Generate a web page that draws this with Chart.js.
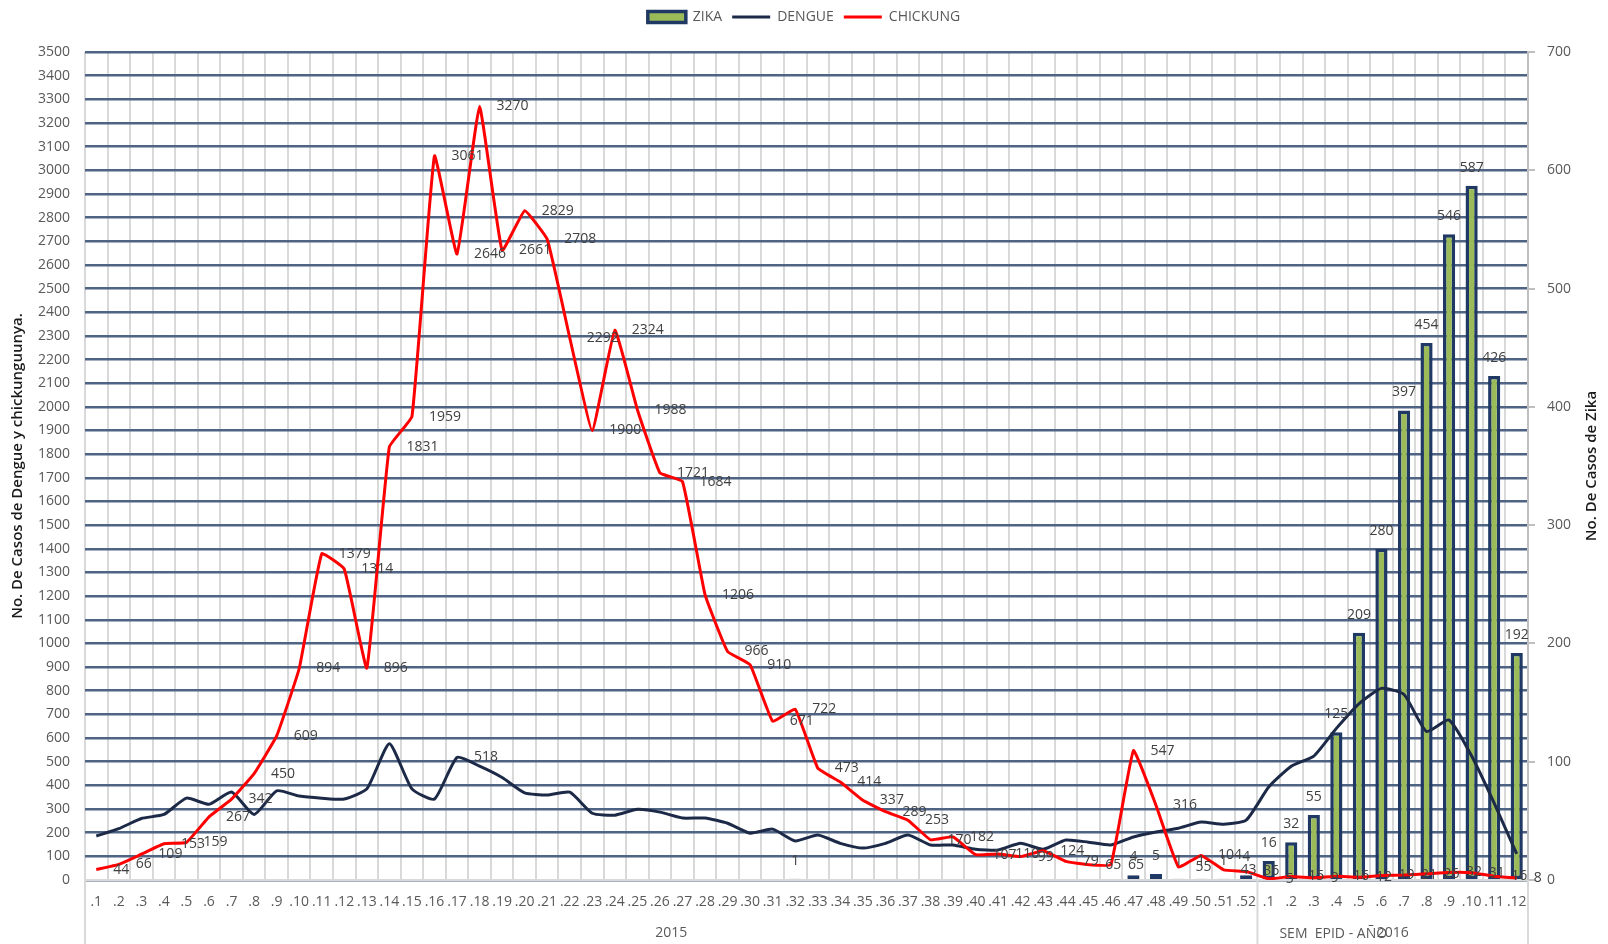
<!DOCTYPE html>
<html>
<head>
<meta charset="utf-8">
<title>Zika, Dengue, Chikungunya</title>
<script src="https://cdn.jsdelivr.net/npm/chart.js@4.4.1/dist/chart.umd.min.js"></script>
<style>
  html, body { margin: 0; padding: 0; background: #fff; }
  #wrap { width: 1608px; height: 944px; }
</style>
</head>
<body>
<div id="wrap"><canvas id="chart" width="1608" height="944"></canvas></div>
<script>
// epidemiological weeks: 52 of 2015, then 12 of 2016
const categories = [
  ".1", ".2", ".3", ".4", ".5", ".6", ".7", ".8", ".9", ".10",
  ".11", ".12", ".13", ".14", ".15", ".16", ".17", ".18", ".19", ".20",
  ".21", ".22", ".23", ".24", ".25", ".26", ".27", ".28", ".29", ".30",
  ".31", ".32", ".33", ".34", ".35", ".36", ".37", ".38", ".39", ".40",
  ".41", ".42", ".43", ".44", ".45", ".46", ".47", ".48", ".49", ".50",
  ".51", ".52",
  ".1", ".2", ".3", ".4", ".5", ".6", ".7", ".8", ".9", ".10", ".11", ".12",
];

const zika = [
  null, null, null, null, null, null, null, null, null, null,
  null, null, null, null, null, null, null, null, null, null,
  null, null, null, null, null, null, null, null, null, null,
  null, 1, null, null, null, null, null, null, null, null,
  null, null, null, null, null, null, 4, 5, 1, 1,
  1, 4,
  16, 32, 55, 125, 209, 280, 397, 454, 546, 587, 426, 192,
];

const dengue = [
  186, 217, 260, 277, 346, 320, 372, 277, 377, 355,
  346, 342, 385, 576, 385, 342, 518, 481, 433, 368,
  359, 371, 282, 274, 299, 287, 262, 262, 240, 198,
  215, 165, 190, 155, 135, 155, 190, 148, 148, 130,
  127, 155, 130, 169, 160, 148, 182, 203, 219, 245,
  236, 253,
  393, 481, 524, 641, 745, 810, 784, 628, 676, 524, 325, 110,
];

const chikungunya = [
  44, 66, 109, 153, 159, 267, 342, 450, 609, 894,
  1379, 1314, 896, 1831, 1959, 3061, 2646, 3270, 2661, 2829,
  2708, 2292, 1900, 2324, 1988, 1721, 1684, 1206, 966, 910,
  671, 722, 473, 414, 337, 289, 253, 170, 182, 107,
  110, 99, 124, 79, 65, 65, 547, 316, 55, 104,
  43, 36,
  5, 15, 9, 16, 12, 19, 21, 26, 32, 31, 16, 8,
];

// only one dengue point carries a label in the original
const dengueLabelIdx = [16];

const yearGroups = [
  { text: "2015", from: 0, to: 51 },
  { text: "2016", from: 52, to: 63 },
];

const FONT = "'Open Sans', sans-serif";
const GREY = "#595959";
const NAVY = "#1F3864";

Chart.defaults.font.family = FONT;
Chart.defaults.color = GREY;

// leave room between the legend and the plot, like the original
const legendGap = {
  id: "legendGap",
  beforeInit(chart) {
    const fit = chart.legend.fit;
    chart.legend.fit = function () {
      fit.bind(chart.legend)();
      this.height += 18;
    };
  },
};

const valueLabels = {
  id: "valueLabels",
  afterDatasetsDraw(chart) {
    const ctx = chart.ctx;
    ctx.save();
    ctx.font = "14px " + FONT;
    ctx.fillStyle = "#404040";

    // zika: above the bars
    ctx.textAlign = "center";
    ctx.textBaseline = "middle";
    chart.getDatasetMeta(0).data.forEach((bar, i) => {
      if (zika[i] == null) return;
      ctx.fillText(String(zika[i]), bar.x, bar.y - 18);
    });

    // lines: to the right of the point
    ctx.textAlign = "left";
    chart.getDatasetMeta(1).data.forEach((pt, i) => {
      if (!dengueLabelIdx.includes(i)) return;
      ctx.fillText(String(dengue[i]), pt.x + 17, pt.y);
    });
    chart.getDatasetMeta(2).data.forEach((pt, i) => {
      ctx.fillText(String(chikungunya[i]), pt.x + 17, pt.y);
    });
    ctx.restore();
  },
};

const extras = {
  id: "extras",
  afterDraw(chart) {
    const ctx = chart.ctx;
    const area = chart.chartArea;
    const x = chart.scales.x;
    const H = chart.height;
    ctx.save();

    // group dividers under the category axis
    const step = x.getPixelForValue(1) - x.getPixelForValue(0);
    const split = x.getPixelForValue(51) + step / 2;
    ctx.strokeStyle = "#d9d9d9";
    ctx.lineWidth = 2;
    [area.left, split, area.right].forEach((px) => {
      ctx.beginPath();
      ctx.moveTo(px, area.bottom);
      ctx.lineTo(px, H);
      ctx.stroke();
    });

    // year labels
    ctx.font = "14px " + FONT;
    ctx.fillStyle = GREY;
    ctx.textAlign = "center";
    ctx.textBaseline = "middle";
    yearGroups.forEach((g) => {
      const cx = (x.getPixelForValue(g.from) + x.getPixelForValue(g.to)) / 2;
      ctx.fillText(g.text, cx, 933);
    });
    ctx.textAlign = "left";
    ctx.fillText("SEM  EPID - AÑO", split + 22, 934);

    // axis titles
    ctx.font = "600 15px " + FONT;
    ctx.fillStyle = "#1a1a1a";
    ctx.textAlign = "center";
    const cy = (area.top + area.bottom) / 2;
    ctx.translate(18, cy);
    ctx.rotate(-Math.PI / 2);
    ctx.fillText("No. De Casos de Dengue y chickunguunya.", 0, 0);
    ctx.setTransform(1, 0, 0, 1, 0, 0);
    ctx.translate(1592, cy);
    ctx.rotate(-Math.PI / 2);
    ctx.fillText("No. De Casos de Zika", 0, 0);
    ctx.restore();
  },
};

new Chart(document.getElementById("chart"), {
  type: "bar",
  data: {
    labels: categories,
    datasets: [
      {
        label: "ZIKA",
        data: zika,
        yAxisID: "y1",
        backgroundColor: "#9BBB59",
        borderColor: NAVY,
        borderWidth: 3.5,
        borderSkipped: false,
        barPercentage: 0.54,
        categoryPercentage: 1,
        pointStyle: "rect",
        order: 3,
      },
      {
        type: "line",
        label: "DENGUE",
        data: dengue,
        yAxisID: "y",
        borderColor: "#1c2a48",
        backgroundColor: "#1c2a48",
        borderWidth: 3,
        pointRadius: 0,
        pointBorderWidth: 3,
        pointStyle: "line",
        tension: 0.18,
        order: 2,
      },
      {
        type: "line",
        label: "CHICKUNG",
        data: chikungunya,
        yAxisID: "y",
        borderColor: "#ff0000",
        backgroundColor: "#ff0000",
        borderWidth: 3,
        pointRadius: 0,
        pointBorderWidth: 3,
        pointStyle: "line",
        tension: 0.1,
        order: 1,
      },
    ],
  },
  options: {
    responsive: false,
    animation: false,
    layout: { padding: { top: 0, left: 0, right: 0, bottom: 0 } },
    plugins: {
      tooltip: { enabled: false },
      legend: {
        display: true,
        position: "top",
        labels: {
          usePointStyle: true,
          pointStyleWidth: 38,
          boxHeight: 11,
          padding: 10,
          color: GREY,
          font: { size: 14 },
          sort: (a, b) => a.datasetIndex - b.datasetIndex,
        },
      },
    },
    scales: {
      x: {
        grid: { offset: true, color: "#d9d9d9", lineWidth: 2, drawTicks: false },
        border: { color: "#d9d9d9", width: 2 },
        ticks: {
          autoSkip: false,
          maxRotation: 0,
          minRotation: 0,
          padding: 14,
          color: GREY,
          font: { size: 14 },
        },
        afterFit(scale) {
          scale.height = 64;
        },
      },
      y: {
        position: "left",
        min: 0,
        max: 3500,
        ticks: {
          stepSize: 100,
          padding: 15,
          color: GREY,
          font: { size: 14 },
          callback: (v) => String(v),
        },
        grid: { color: "#4f6384", lineWidth: 2.5, drawTicks: false },
        border: { display: false },
        afterFit(scale) {
          scale.width = 85;
        },
      },
      y1: {
        position: "right",
        min: 0,
        max: 700,
        ticks: {
          stepSize: 100,
          padding: 12,
          color: GREY,
          font: { size: 14 },
          callback: (v) => String(v),
        },
        grid: { drawOnChartArea: false, color: "#bfbfbf", tickLength: 7, lineWidth: 2 },
        border: { color: "#bfbfbf", width: 2 },
        afterFit(scale) {
          scale.width = 80;
        },
      },
    },
  },
  plugins: [legendGap, valueLabels, extras],
});
</script>
</body>
</html>
